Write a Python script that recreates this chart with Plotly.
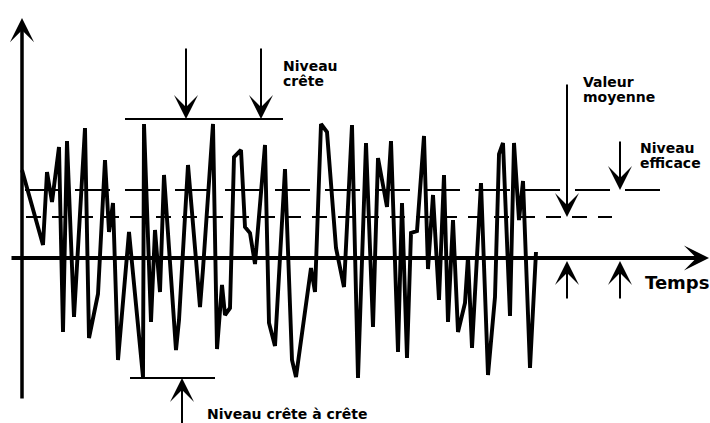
import plotly.graph_objects as go

# ---- data (arbitrary time / amplitude units) ----
time = [0, 21, 25, 30, 37, 41, 45, 52, 63, 67,
        76, 83, 87, 91, 96, 107, 121, 122, 129, 133,
        138, 142, 154, 157, 166, 178, 181, 191, 195, 200,
        203, 208, 212, 219, 223, 228, 233, 243, 247, 253,
        263, 270, 274, 289, 293, 299, 305, 314, 322, 330,
        336, 344, 351, 356, 365, 369, 376, 380, 385, 389,
        395, 402, 406, 411, 417, 422, 426, 431, 436, 443,
        446, 450, 459, 466, 473, 477, 481, 488, 492, 497,
        501, 508, 514]
amplitude = [88, 13, 86, 56, 111, -74, 117, -59, 130, -80,
             -36, 98, 26, 55, -102, 26, -119, 134, -64, 28,
             -34, 83, -92, -62, 93, -49, -11, 134, -91, -27,
             -57, -50, 101, 108, 31, 25, -6, 113, -65, -88,
             89, -102, -119, -10, -34, 134, 126, 10, -29, 133,
             -120, 115, -69, 100, 51, 117, -94, 55, -100, 25,
             27, 122, -11, 63, -42, 83, -64, 38, -74, -45,
             1, -90, 75, -117, -39, 104, 115, -58, 115, 38,
             77, -110, 6]

peak_level = 139
trough_level = -120
rms_level = 68
mean_level = 41

peak_span = [103, 261]
trough_span = [108, 193]
rms_span = [3, 638]
mean_span = [4, 590]

labels = {
    "peak": ["Niveau", "crête"],
    "mean": ["Valeur", "moyenne"],
    "rms": ["Niveau", "efficace"],
    "p2p": "Niveau crête à crête",
    "time": "Temps",
}

FONT = dict(family="DejaVu Sans", size=14, color="black", weight="bold")

fig = go.Figure()

# waveform
fig.add_trace(go.Scatter(x=time, y=amplitude, mode="lines",
                         line=dict(color="black", width=3.9),
                         hoverinfo="skip", showlegend=False))

# level lines
fig.add_trace(go.Scatter(x=rms_span, y=[rms_level] * 2, mode="lines",
                         line=dict(color="black", width=2, dash="35px,15px"),
                         hoverinfo="skip", showlegend=False))
fig.add_trace(go.Scatter(x=mean_span, y=[mean_level] * 2, mode="lines",
                         line=dict(color="black", width=2, dash="15px,11px"),
                         hoverinfo="skip", showlegend=False))
fig.add_trace(go.Scatter(x=peak_span, y=[peak_level] * 2, mode="lines",
                         line=dict(color="black", width=2),
                         hoverinfo="skip", showlegend=False))
fig.add_trace(go.Scatter(x=trough_span, y=[trough_level] * 2, mode="lines",
                         line=dict(color="black", width=2),
                         hoverinfo="skip", showlegend=False))


def arrow(x_tip, y_tip, x_tail, y_tail, width=2, size=2.0):
    return dict(x=x_tip, y=y_tip, ax=x_tail, ay=y_tail,
                xref="x", yref="y", axref="x", ayref="y",
                text="", showarrow=True, arrowhead=3, arrowsize=size,
                arrowwidth=width, arrowcolor="black", standoff=0)


def label(x, y, text, size=14):
    f = dict(FONT)
    f["size"] = size
    return dict(x=x, y=y, xref="x", yref="y", text=text, showarrow=False,
                xanchor="left", yanchor="middle", font=f)


ann = [
    # axes
    arrow(687, 0, -12, 0, width=3.8, size=1.1),
    arrow(0, 240, 0, -142, width=3.5, size=1.15),
    # peak arrows
    arrow(164, peak_level, 164, 211),
    arrow(239, peak_level, 239, 211),
    # trough arrow
    arrow(160, trough_level, 160, -175),
    # mean arrows
    arrow(545, mean_level, 545, 175),
    arrow(545, -3, 545, -42),
    # rms arrows
    arrow(598, rms_level, 598, 118),
    arrow(598, -3, 598, -42),
    # labels
    label(259, 192.5, labels["peak"][0]),
    label(259, 177, labels["peak"][1]),
    label(559, 176.5, labels["mean"][0]),
    label(559, 161.5, labels["mean"][1]),
    label(616, 110.5, labels["rms"][0]),
    label(616, 95.5, labels["rms"][1]),
    label(183, -156, labels["p2p"]),
    label(621, -24.5, labels["time"], size=18),
]

fig.update_layout(
    width=710, height=423, autosize=False,
    margin=dict(l=0, r=0, t=0, b=0),
    paper_bgcolor="white", plot_bgcolor="white",
    xaxis=dict(range=[-22, 688], visible=False, fixedrange=True),
    yaxis=dict(range=[-165, 258], visible=False, fixedrange=True),
    annotations=ann,
    showlegend=False,
    hovermode=False,
)

fig.write_html(
    "out.html",
    config={"displayModeBar": False},
    post_script="document.body.style.margin='0px';document.body.style.overflow='hidden';",
)
